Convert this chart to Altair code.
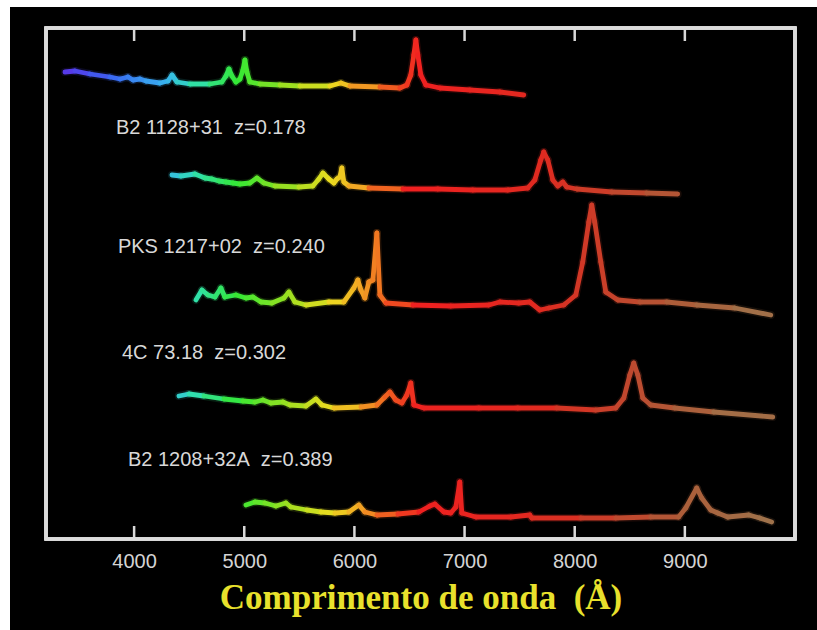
import altair as alt
import pandas as pd

# ---- spectra: wavelength (Angstrom) and offset flux (arbitrary units) ----
s0_w = [3372, 3463, 3599, 3781, 3872, 3944, 3990, 4053, 4108, 4235, 4307, 4344, 4389, 4507, 4688,
        4797, 4834, 4861, 4888, 4924, 4961, 4988, 5006, 5024, 5051, 5142, 5324, 5505, 5777, 5877,
        5959, 6231, 6413, 6476, 6512, 6539, 6558, 6576, 6603, 6649, 6776, 7048, 7320, 7538]
s0_f = [467, 468, 465, 462, 460, 462, 459, 460, 458, 456, 458, 464, 457, 455, 455,
        457, 463, 470, 463, 457, 460, 469, 479, 467, 457, 455, 454, 453, 453, 456,
        453, 452, 451, 454, 464, 484, 499, 484, 464, 454, 451, 449, 447, 444]

s1_w = [4343, 4425, 4552, 4643, 4706, 4770, 4834, 4897, 4961, 5051, 5115, 5178, 5278, 5496, 5623,
        5677, 5714, 5768, 5814, 5841, 5868, 5886, 5904, 5950, 6131, 6440, 6757, 7075, 7393, 7574,
        7638, 7692, 7719, 7756, 7801, 7846, 7892, 7928, 8019, 8336, 8654, 8935]
s1_f = [364, 363, 365, 361, 360, 358, 357, 356, 355, 356, 361, 356, 353, 352, 353,
        360, 366, 360, 356, 360, 362, 371, 357, 353, 351, 350, 350, 349, 349, 351,
        359, 379, 387, 379, 359, 353, 357, 352, 350, 347, 346, 345]

s2_w = [4561, 4616, 4670, 4734, 4788, 4824, 4924, 5015, 5079, 5151, 5251, 5360, 5405, 5460, 5560,
        5768, 5904, 5995, 6031, 6059, 6095, 6131, 6168, 6204, 6231, 6286, 6531, 6875, 7220, 7320,
        7492, 7592, 7683, 7765, 7901, 8010, 8073, 8128, 8155, 8182, 8237, 8282, 8391, 8591, 8836,
        9108, 9453, 9780]
s2_f = [239, 249, 244, 242, 251, 242, 244, 241, 242, 237, 236, 241, 247, 237, 234,
        237, 237, 251, 259, 249, 241, 257, 259, 306, 244, 236, 234, 233, 234, 237,
        236, 237, 229, 231, 234, 244, 277, 317, 334, 317, 277, 247, 239, 237, 237,
        234, 231, 224]

s3_w = [4407, 4498, 4634, 4815, 4988, 5097, 5169, 5242, 5351, 5414, 5560, 5650, 5705, 5814, 6059,
        6204, 6276, 6322, 6376, 6431, 6476, 6512, 6540, 6630, 7129, 7483, 7837, 8191, 8373, 8446,
        8500, 8536, 8573, 8618, 8690, 8908, 9262, 9798]
s3_f = [143, 145, 143, 140, 138, 137, 139, 136, 137, 134, 133, 140, 134, 131, 132,
        134, 142, 147, 139, 136, 144, 156, 134, 131, 131, 131, 131, 129, 131, 141,
        164, 176, 164, 141, 134, 131, 127, 122]

s4_w = [5015, 5097, 5187, 5287, 5378, 5423, 5569, 5696, 5823, 5950, 6040, 6095, 6204, 6394, 6585,
        6685, 6730, 6812, 6875, 6921, 6957, 6975, 7102, 7420, 7592, 7610, 8055, 8373, 8690, 8944,
        9008, 9108, 9153, 9235, 9298, 9389, 9580, 9680, 9788]
s4_f = [34, 37, 36, 33, 36, 32, 29, 27, 26, 27, 34, 27, 24, 25, 27,
        33, 35, 27, 26, 32, 57, 26, 22, 22, 24, 21, 21, 21, 22, 22,
        31, 51, 41, 29, 26, 22, 24, 21, 17]

spectra = [("rest", s0_w, s0_f), ("B2 1128+31", s1_w, s1_f), ("PKS 1217+02", s2_w, s2_f),
           ("4C 73.18", s3_w, s3_f), ("B2 1208+32A", s4_w, s4_f)]

# ---- labels ----
label_text = ["B2 1128+31\u00a0 z=0.178", "PKS 1217+02\u00a0 z=0.240",
              "4C 73.18\u00a0 z=0.302", "B2 1208+32A\u00a0 z=0.389"]
label_w = [3835, 3853, 3890, 3944]
label_f = [411, 292, 186, 79]

tick_values = [4000, 5000, 6000, 7000, 8000, 9000]

# wavelength -> colour (rainbow)
col_domain = [3370, 3800, 4300, 4550, 4950, 5400, 5800, 6050, 6300, 6600, 7700, 8300, 9000, 9800]
col_range = ["#5a34e8", "#3a66f2", "#38b4ee", "#30e0b4", "#34e834", "#9ae020", "#ecdc20", "#f2a624",
             "#f06020", "#f02020", "#e02a20", "#c8402a", "#ac5e3a", "#9e744c"]

rows = []
for name, ws, fs in spectra:
    for i in range(len(ws) - 1):
        rows.append({"spec": name, "w": ws[i], "w2": ws[i + 1], "f": fs[i], "f2": fs[i + 1],
                     "wm": (ws[i] + ws[i + 1]) / 2})
seg = pd.DataFrame(rows)
labels = pd.DataFrame({"text": label_text, "w": label_w, "f": label_f})
ticks = pd.DataFrame({"t": tick_values})

W, H = 749, 511
xscale = alt.Scale(domain=[3200, 10000], nice=False, zero=False)
yscale = alt.Scale(domain=[0, 511], nice=False, zero=False)
cscale = alt.Scale(domain=col_domain, range=col_range, interpolate="rgb")

xaxis = alt.Axis(values=tick_values, format="d", grid=False, domain=False, ticks=False, tickSize=0,
                 labelColor="#d4d4d4", labelFont="Liberation Sans", labelFontSize=20,
                 labelPadding=12, title="Comprimento de onda\u00a0 (Å)", titleColor="#e8e12c",
                 titleFont="Liberation Serif", titleFontWeight="bold", titleFontSize=35,
                 titlePadding=9, zindex=1)

bg = alt.Chart(ticks).mark_rect(color="black").encode(
    x=alt.value(-36), x2=alt.value(771), y=alt.value(-21), y2=alt.value(602))

glow = alt.Chart(seg).mark_rule(strokeWidth=8, opacity=0.14, strokeCap="round").encode(
    x=alt.X("w:Q", scale=xscale, axis=xaxis),
    x2="w2:Q",
    y=alt.Y("f:Q", scale=yscale, axis=None),
    y2="f2:Q",
    color=alt.Color("wm:Q", scale=cscale, legend=None))

lines = alt.Chart(seg).mark_rule(strokeWidth=4.8, strokeCap="round").encode(
    x=alt.X("w:Q", scale=xscale, axis=xaxis),
    x2="w2:Q",
    y=alt.Y("f:Q", scale=yscale, axis=None),
    y2="f2:Q",
    color=alt.Color("wm:Q", scale=cscale, legend=None))

text = alt.Chart(labels).mark_text(align="left", baseline="middle", font="Liberation Sans",
                                   fontSize=20, color="#d8d8d8").encode(
    x=alt.X("w:Q", scale=xscale), y=alt.Y("f:Q", scale=yscale), text="text:N")

tick_bot = alt.Chart(ticks).mark_rule(color="#d8d8d8", strokeWidth=2.5).encode(
    x=alt.X("t:Q", scale=xscale), y=alt.value(H), y2=alt.value(H - 13))
tick_top = alt.Chart(ticks).mark_rule(color="#d8d8d8", strokeWidth=2.5).encode(
    x=alt.X("t:Q", scale=xscale), y=alt.value(0), y2=alt.value(13))

frame = alt.Chart(ticks).mark_rect(filled=False, stroke="#dcdcdc", strokeWidth=3).encode(
    x=alt.value(0), x2=alt.value(W), y=alt.value(0), y2=alt.value(H))

chart = alt.layer(bg, glow, lines, text, tick_bot, tick_top, frame).properties(
    width=W, height=H, background="white",
    padding={"left": 46, "top": 28, "right": 22, "bottom": 91},
    autosize=alt.AutoSizeParams(type="none"),
).configure_view(stroke=None)

chart.save("out.html", embed_options={"renderer": "svg", "actions": False})
